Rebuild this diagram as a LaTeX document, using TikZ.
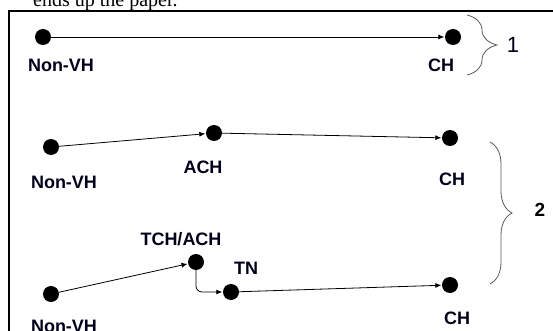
\documentclass[tikz,border=0pt]{standalone}
\usepackage{fontspec}
\setmainfont{Liberation Sans}
\newfontfamily\seriffont{Liberation Serif}
\usetikzlibrary{arrows.meta,decorations.pathreplacing}
\tikzset{
  dot/.style={circle,fill=black,minimum size=16pt,inner sep=0pt},
  lbl/.style={font=\fontsize{18}{20}\selectfont\bfseries,inner sep=0pt,text=black!90!blue},
  arr/.style={-{Latex[length=6pt,width=5pt]},line width=0.8pt,shorten >=0.5pt},
  bracepath/.style={decorate,line width=0.8pt,draw=black!65},
  frame/.style={line width=1.4pt}
}
\begin{document}
\begin{tikzpicture}[x=1pt,y=-1pt]
\useasboundingbox (0,0) rectangle (553,331);
\clip (0,0) rectangle (553,331);
% cut-off text above
\node[anchor=base west,inner sep=0pt,font=\seriffont\fontsize{20}{24}\selectfont] (cut) at (33,7) {ends up the paper.};
% frame
\draw[frame] (9,340) -- (9,11) -- (560,11);
% row 1
\node[dot] (a1) at (43,37) {};
\node[dot] (b1) at (453,37) {};
\node[lbl] (la1) at (61,65) {Non-VH};
\node[lbl] (lb1) at (441,65) {CH};
\draw[arr] (a1) -- (b1);
% row 2
\node[dot] (a2) at (51,147) {};
\node[dot] (m2) at (214,133) {};
\node[dot] (b2) at (450,138) {};
\node[lbl] (la2) at (64,182) {Non-VH};
\node[lbl] (lm2) at (203,167) {ACH};
\node[lbl] (lb2) at (452,179) {CH};
\draw[arr] (a2) -- (m2);
\draw[arr] (m2) -- (b2);
% row 3
\node[dot] (a3) at (51,294) {};
\node[dot] (m3) at (196,262) {};
\node[dot] (t3) at (231,292) {};
\node[dot] (b3) at (450,285) {};
\node[lbl] (la3) at (64,326) {Non-VH};
\node[lbl] (lm3) at (181,239) {TCH/ACH};
\node[lbl] (lt3) at (246,268) {TN};
\node[lbl] (lb3) at (457,318) {CH};
\draw[arr] (a3) -- (m3);
\draw[arr,rounded corners=6pt] (m3.south) |- (t3.west);
\draw[arr] (t3) -- (b3);
% braces
\coordinate (p1) at (467,15);
\coordinate (q1) at (467,75);
\draw[bracepath,decoration={brace,amplitude=30pt}] (p1) -- (q1);
\node[font=\fontsize{22}{24}\selectfont,inner sep=0pt,text=black!90!blue] (n1) at (513,45) {1};
\coordinate (p2) at (490,142);
\coordinate (q2) at (490,284);
\draw[bracepath,decoration={brace,amplitude=22pt}] (p2) -- (q2);
\node[font=\fontsize{19}{21}\selectfont\bfseries,inner sep=0pt] (n2) at (540,210) {2};
\end{tikzpicture}
\end{document}
